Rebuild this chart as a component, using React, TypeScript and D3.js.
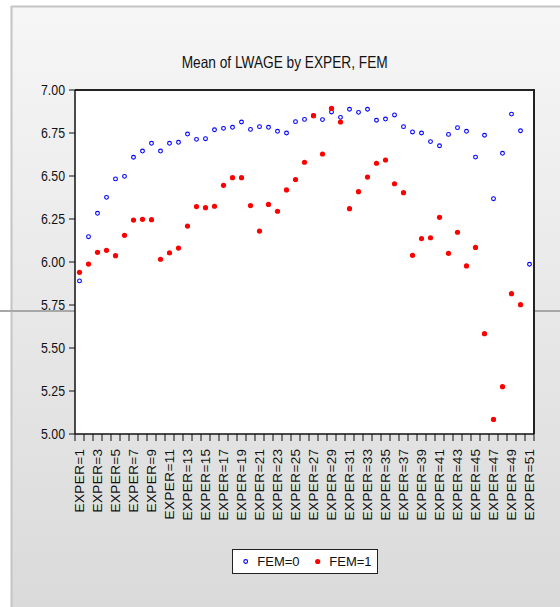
import React from "react";
import * as d3 from "d3";

const categories: string[] = Array.from({ length: 51 }, (_, i) => `EXPER=${i + 1}`);

const fem0: (number | null)[] = [
  5.89, 6.147, 6.283, 6.376, 6.483, 6.498, 6.609, 6.645, 6.69, 6.645,
  6.69, 6.696, 6.744, 6.713, 6.717, 6.769, 6.777, 6.783, 6.814, 6.771,
  6.787, 6.783, 6.76, 6.75, 6.816, 6.829, 6.85, 6.828, 6.872, 6.841,
  6.888, 6.87, 6.888, 6.824, 6.831, 6.855, 6.787, 6.756, 6.75, 6.7,
  6.676, 6.742, 6.781, 6.76, 6.61, 6.737, 6.368, 6.632, 6.86, 6.763,
  5.987,
];

const fem1: (number | null)[] = [
  5.94, 5.988, 6.056, 6.068, 6.037, 6.155, 6.244, 6.248, 6.246, 6.016,
  6.053, 6.081, 6.209, 6.322, 6.316, 6.324, 6.446, 6.49, 6.49, 6.328,
  6.18, 6.335, 6.295, 6.419, 6.479, 6.58, 6.851, 6.628, 6.893, 6.814,
  6.31, 6.409, 6.494, 6.574, 6.593, 6.455, 6.403, 6.039, 6.136, 6.141,
  6.26, 6.05, 6.173, 5.977, 6.085, 5.583, 5.085, 5.275, 5.816, 5.752,
  null,
];

const yTicks: number[] = [5.0, 5.25, 5.5, 5.75, 6.0, 6.25, 6.5, 6.75, 7.0];
const seriesLabels: string[] = ["FEM=0", "FEM=1"];
const title = "Mean of LWAGE by EXPER, FEM";

const W = 560;
const H = 607;
const plot = { left: 75, top: 90, right: 534, bottom: 434 };
const FONT = "'Liberation Sans', Arial, sans-serif";

export default function App() {
  const x = d3
    .scaleBand<string>()
    .domain(categories)
    .range([plot.left, plot.right])
    .padding(0);
  const y = d3.scaleLinear().domain([5, 7]).range([plot.bottom, plot.top]);
  const cx = (c: string) => (x(c) as number) + x.bandwidth() / 2;
  const boundaries = d3.range(categories.length + 1).map((i) => plot.left + i * x.bandwidth());

  return (
    <svg
      width={W}
      height={H}
      style={{ position: "absolute", left: 0, top: 0, display: "block" }}
      fontFamily={FONT}
    >
      <defs>
        <linearGradient id="bg" x1="0" y1="0" x2="0" y2="1">
          <stop offset="0%" stopColor="#f6f6f6" />
          <stop offset="100%" stopColor="#dadada" />
        </linearGradient>
      </defs>
      <rect x={0} y={0} width={W} height={H} fill="#ffffff" />
      <rect x={11} y={6} width={W - 11} height={H - 6} fill="url(#bg)" />
      <line x1={11} x2={W} y1={6.5} y2={6.5} stroke="#c4c4c4" strokeWidth={2} />
      <line x1={11.5} x2={11.5} y1={6} y2={H} stroke="#c4c4c4" strokeWidth={2} />
      <line x1={0} x2={W} y1={311} y2={311} stroke="#a8a8a8" strokeWidth={2} />

      <text
        x={284.7}
        y={68}
        textAnchor="middle"
        fontSize={16.5}
        fill="#111"
        textLength={206}
        lengthAdjust="spacingAndGlyphs"
      >
        {title}
      </text>

      <rect
        x={plot.left}
        y={plot.top}
        width={plot.right - plot.left}
        height={plot.bottom - plot.top}
        fill="#ffffff"
      />
      <line x1={plot.left} x2={plot.right + 1} y1={plot.top} y2={plot.top} stroke="#222" strokeWidth={2} />
      <line x1={plot.right} x2={plot.right} y1={plot.top} y2={plot.bottom} stroke="#222" strokeWidth={2} />
      <line x1={plot.left} x2={plot.right} y1={plot.bottom} y2={plot.bottom} stroke="#111" strokeWidth={1.5} />
      <line x1={plot.left} x2={plot.left} y1={plot.top} y2={plot.bottom} stroke="#111" strokeWidth={1.5} />

      {yTicks.map((t) => (
        <g key={t}>
          <line x1={plot.left - 6} x2={plot.left} y1={y(t)} y2={y(t)} stroke="#111" strokeWidth={1} />
          <text
            x={plot.left - 10}
            y={y(t)}
            textAnchor="end"
            dominantBaseline="central"
            fontSize={14}
            fill="#111"
            textLength={24}
            lengthAdjust="spacingAndGlyphs"
          >
            {d3.format(".2f")(t)}
          </text>
        </g>
      ))}

      {boundaries.map((bx, i) => (
        <line key={i} x1={bx} x2={bx} y1={plot.bottom} y2={plot.bottom + 7} stroke="#111" strokeWidth={1} />
      ))}

      {categories.map((c, i) =>
        i % 2 === 0 ? (
          <text
            key={c}
            transform={`translate(${cx(c)},${448.5}) rotate(-90)`}
            textAnchor="end"
            dominantBaseline="central"
            fontSize={13.5}
            letterSpacing={0.4}
            fill="#111"
          >
            {c}
          </text>
        ) : null
      )}

      {categories.map((c, i) =>
        fem0[i] == null ? null : (
          <circle
            key={"b" + c}
            cx={cx(c)}
            cy={y(fem0[i] as number)}
            r={1.9}
            fill="none"
            stroke="#0000ff"
            strokeWidth={1.1}
          />
        )
      )}
      {categories.map((c, i) =>
        fem1[i] == null ? null : (
          <circle key={"r" + c} cx={cx(c)} cy={y(fem1[i] as number)} r={2.6} fill="#ff0000" />
        )
      )}

      <g>
        <rect x={232.5} y={549.5} width={145} height={24} fill="#ffffff" stroke="#222" strokeWidth={1} />
        <circle cx={245.7} cy={561.5} r={1.9} fill="none" stroke="#0000ff" strokeWidth={1.1} />
        <text x={257.3} y={561.5} dominantBaseline="central" fontSize={13} fill="#111">
          {seriesLabels[0]}
        </text>
        <circle cx={317.7} cy={561.5} r={2.6} fill="#ff0000" />
        <text x={329.3} y={561.5} dominantBaseline="central" fontSize={13} fill="#111">
          {seriesLabels[1]}
        </text>
      </g>
    </svg>
  );
}
